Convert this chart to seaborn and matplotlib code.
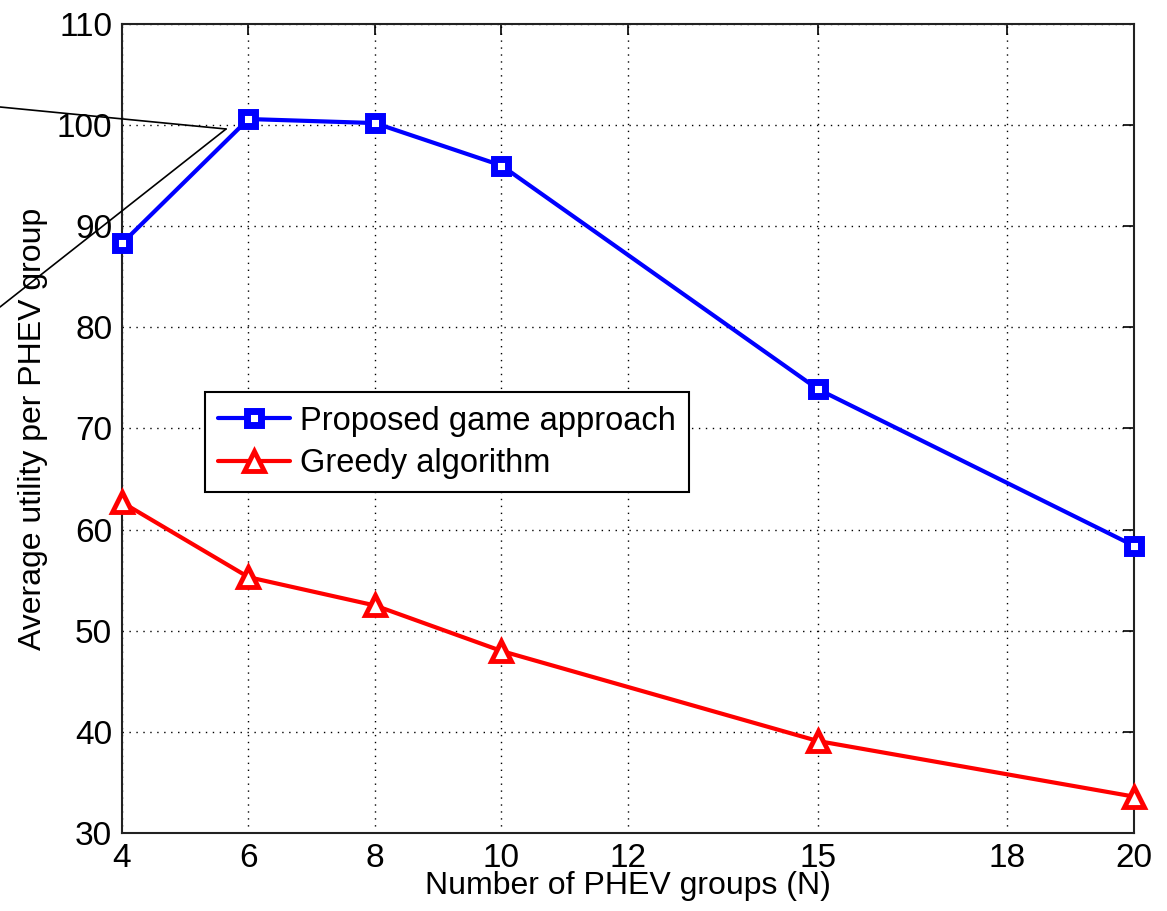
import matplotlib
matplotlib.use("Agg")
import matplotlib.pyplot as plt
import seaborn as sns
from matplotlib.lines import Line2D

# data
groups = [4, 6, 8, 10, 15, 20]
game_utility = [88.3, 100.6, 100.2, 96.0, 73.9, 58.4]
greedy_utility = [62.7, 55.3, 52.5, 48.0, 39.1, 33.6]

x_ticks = [4, 6, 8, 10, 12, 15, 18, 20]
y_ticks = [30, 40, 50, 60, 70, 80, 90, 100, 110]

sns.set_style("white")
plt.rcParams["font.family"] = ["Liberation Sans", "DejaVu Sans"]
plt.rcParams["text.color"] = "black"
plt.rcParams["axes.labelcolor"] = "black"

fig = plt.figure(figsize=(11.67, 9.11), dpi=100)
ax = fig.add_axes([0.1045, 0.0856, 0.8672, 0.8881])

sns.lineplot(
    x=groups, y=game_utility, ax=ax,
    color="#0000ff", linewidth=3.0,
    marker="s", markersize=10.5, markerfacecolor="white",
    markeredgecolor="#0000ff", markeredgewidth=5,
    label="Proposed game approach", zorder=5, clip_on=False
)
sns.lineplot(
    x=groups, y=greedy_utility, ax=ax,
    color="#ff0000", linewidth=3.0,
    marker="^", markersize=15, markerfacecolor="white",
    markeredgecolor="#ff0000", markeredgewidth=3.5,
    label="Greedy algorithm", zorder=5, clip_on=False
)

ax.set_xlim(4, 20)
ax.set_ylim(30, 110)
ax.set_xticks(x_ticks)
ax.set_yticks(y_ticks)
ax.tick_params(direction="in", length=8, width=1.2, labelsize=24,
               top=True, right=True, pad=7, colors="black")

ax.grid(True, color="black", linestyle=(0, (1, 4)), linewidth=1.0)
for spine in ax.spines.values():
    spine.set_color("#222222")
    spine.set_linewidth(1.5)

ax.set_xlabel("Number of PHEV groups (N)", fontsize=23, labelpad=-2)
ax.set_ylabel("Average utility per PHEV group", fontsize=23, labelpad=6)

leg = ax.legend(
    loc="lower left", bbox_to_anchor=(0.082, 0.4215),
    fontsize=23.5, frameon=True, fancybox=False, framealpha=1,
    edgecolor="black", borderpad=0.4, labelspacing=0.35,
    handlelength=2.2, handletextpad=0.3, borderaxespad=0
)
leg.get_frame().set_linewidth(1.5)
for txt in leg.get_texts():
    txt.set_color("black")

# stray annotation lines from the left edge
fig.add_artist(Line2D([0.0, 0.1937], [1 - 107 / 911, 1 - 129 / 911],
                      color="black", linewidth=1.2))
fig.add_artist(Line2D([0.0, 0.1937], [1 - 307 / 911, 1 - 129 / 911],
                      color="black", linewidth=1.2))

fig.savefig("out.png", dpi=100)
